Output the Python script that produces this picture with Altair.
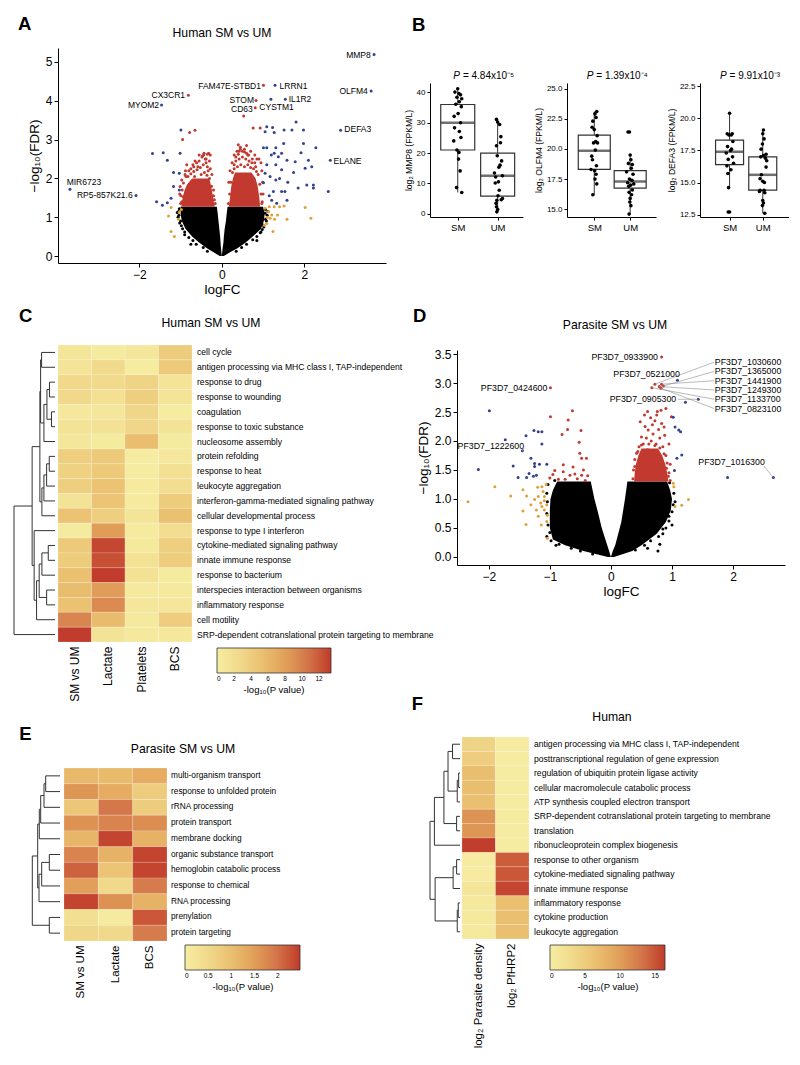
import altair as alt
import pandas as pd

FONT = "Liberation Sans"
RED = "#C1392F"
BLUE = "#34418C"
ORANGE = "#E1A035"
BLACK = "#000000"
HEAT_STOPS = [0, 0.2, 0.4, 0.6, 0.8, 1.0]
HEAT_COLORS = ["#F6EDA2", "#F1D98B", "#EAC070", "#E1A05A", "#D3744A", "#C0392B"]

# ---------------- Panel A (human volcano) ----------------
A_BLUE = [(3.69, 5.19), (1.29, 4.40), (1.54, 4.04), (1.19, 4.04), (3.62, 4.25), (-1.46, 3.89),
          (2.88, 3.24), (2.63, 2.47), (-3.68, 1.72), (-2.08, 1.56),
          (-0.99, 3.25), (-1.68, 2.64), (-1.42, 2.66), (-1.01, 2.65), (-1.32, 2.47), (-1.17, 2.15),
          (-1.03, 2.13), (-1.17, 1.79), (-1.03, 1.70), (-1.58, 1.40), (-1.44, 1.31), (-1.32, 1.37),
          (-1.23, 1.49), (1.09, 3.33), (1.23, 3.31), (1.05, 3.20), (1.27, 3.18), (1.51, 3.25),
          (1.70, 3.25), (1.80, 3.45), (1.98, 3.25), (1.01, 2.79), (1.09, 2.79), (1.31, 2.79),
          (1.45, 2.65), (1.27, 2.65), (1.92, 2.66), (1.98, 2.90), (2.28, 2.79), (1.58, 2.47),
          (1.78, 2.43), (1.31, 2.35), (1.45, 2.22), (1.74, 2.15), (2.10, 2.47), (2.18, 2.30),
          (2.02, 2.26), (1.05, 2.13), (1.17, 2.05), (1.31, 1.96), (1.01, 1.89), (1.45, 1.66),
          (1.53, 1.66), (1.25, 1.66), (2.22, 1.83), (2.06, 1.83), (2.22, 1.75), (2.58, 1.66),
          (1.21, 1.44), (1.58, 1.44), (1.33, 1.36), (1.09, 2.35), (1.37, 2.56), (1.15, 1.55),
          (1.40, 2.00), (1.60, 1.90), (1.85, 1.75), (1.20, 2.60), (1.50, 2.90)]
A_RED = [(1.01, 4.40), (-0.81, 4.14), (0.83, 4.01), (0.81, 3.82), (0.53, 3.61),
         (-0.95, 3.00), (-0.78, 3.18), (-0.65, 3.24), (-0.43, 2.65), (-0.32, 2.65), (-0.28, 2.60),
         (-0.48, 2.55), (-0.85, 2.35), (-0.61, 2.40), (-0.75, 2.25), (-0.89, 2.10), (-0.97, 1.96),
         (-1.01, 1.79), (-0.93, 1.53), (-0.97, 1.40), (-0.65, 2.45), (-0.40, 2.50), (-0.24, 2.10),
         (-0.20, 1.70), (-0.18, 1.45), (-1.02, 1.60), (-0.88, 2.20), (-0.70, 2.35), (-0.55, 2.60),
         (-0.35, 2.62),
         (-1.00, 1.35), (-0.99, 1.55), (-0.96, 1.70), (-0.93, 1.88), (-0.87, 2.05), (-0.80, 2.20),
         (-0.68, 2.30), (-0.55, 2.45), (-0.47, 2.58), (-0.38, 2.50), (-0.35, 2.30), (-0.30, 2.00),
         (-0.25, 1.80), (-0.20, 1.55), (-0.16, 1.35),
         (-0.82, 2.05), (-0.75, 2.12), (-0.68, 2.18), (-0.60, 2.22), (-0.52, 2.28), (-0.45, 2.35),
         (-0.38, 2.40), (-0.33, 2.20), (-0.42, 2.15), (-0.50, 2.10), (-0.58, 2.30), (-0.66, 2.05),
         (-0.30, 2.45), (-0.44, 2.60), (-0.36, 2.08), (-0.28, 2.25),
         (0.76, 3.30), (0.93, 3.30), (0.40, 2.87), (0.45, 2.80), (0.60, 2.85), (0.37, 2.70),
         (0.55, 2.75), (0.70, 2.70), (0.80, 2.60), (0.90, 2.50), (0.95, 2.40), (0.30, 2.60),
         (0.25, 2.40), (0.20, 2.20), (0.17, 1.90), (0.97, 2.20), (0.99, 1.90), (1.00, 1.60),
         (0.98, 1.40), (0.85, 2.50), (0.50, 2.70), (0.65, 2.60),
         (0.16, 1.35), (0.19, 1.60), (0.22, 1.90), (0.26, 2.15), (0.30, 2.35), (0.34, 2.55),
         (0.42, 2.70), (0.55, 2.68), (0.63, 2.60), (0.74, 2.50), (0.82, 2.30), (0.88, 2.10),
         (0.92, 1.85), (0.95, 1.60), (0.97, 1.35),
         (0.30, 2.25), (0.38, 2.30), (0.46, 2.35), (0.55, 2.30), (0.63, 2.35), (0.70, 2.28),
         (0.77, 2.25), (0.34, 2.45), (0.42, 2.50), (0.50, 2.55), (0.58, 2.50), (0.66, 2.45),
         (0.73, 2.40), (0.40, 2.62), (0.60, 2.65), (0.45, 2.75), (0.84, 2.18), (0.80, 2.40)]
A_ORANGE = [(-1.23, 1.25), (-1.03, 1.13), (-1.29, 1.03), (-1.23, 0.63), (-1.15, 0.50), (-1.05, 0.95),
            (-0.98, 1.20), (1.05, 1.23), (1.15, 1.27), (1.27, 1.27), (1.40, 1.27), (1.51, 1.29),
            (1.13, 1.14), (1.21, 1.06), (1.35, 1.06), (1.17, 0.97), (1.28, 0.95), (1.09, 0.84),
            (1.58, 0.95), (2.02, 1.25), (2.16, 0.97), (1.24, 0.63), (1.03, 0.79), (1.10, 1.00)]
A_BLACK = [(-1.05, 1.15), (1.05, 1.10), (-0.90, 0.55), (0.95, 0.62), (1.00, 0.80), (-1.00, 0.90),
           (0.85, 0.40), (-0.75, 0.30), (1.06, 0.95), (-1.04, 1.05),
           (-1.03, 1.22), (-1.06, 1.00), (-1.02, 0.85), (-0.95, 0.70), (-0.90, 0.62), (-0.80, 0.48),
           (-0.70, 0.40), (-0.62, 0.30), (-0.45, 0.22), (-0.35, 0.12), (-1.08, 1.12), (-0.98, 0.78),
           (1.06, 1.20), (1.10, 1.05), (1.08, 0.90), (1.02, 0.75), (0.93, 0.60), (0.85, 0.50),
           (0.75, 0.42), (0.60, 0.30), (0.48, 0.22), (0.35, 0.12), (1.12, 1.15), (0.98, 0.68)]
A_BLACK_LOBES = {
    "L": [(0.0, -0.05, 0.0), (0.1, -0.20, -0.01), (0.2, -0.36, -0.02), (0.35, -0.55, -0.03),
          (0.5, -0.72, -0.04), (0.7, -0.88, -0.06), (0.9, -0.97, -0.08), (1.1, -1.0, -0.10),
          (1.27, -1.0, -0.12)],
    "R": [(0.0, 0.0, 0.05), (0.1, 0.01, 0.20), (0.2, 0.02, 0.38), (0.35, 0.04, 0.58),
          (0.5, 0.05, 0.75), (0.7, 0.07, 0.95), (0.9, 0.10, 1.02), (1.1, 0.12, 1.04),
          (1.27, 0.14, 1.00)],
}
A_RED_LOBES = {
    "L": [(1.27, -0.98, -0.17), (1.5, -0.95, -0.21), (1.7, -0.90, -0.24), (1.85, -0.84, -0.27),
          (2.0, -0.72, -0.30)],
    "R": [(1.27, 0.17, 0.93), (1.5, 0.20, 0.91), (1.8, 0.23, 0.87), (2.0, 0.27, 0.82),
          (2.15, 0.32, 0.72)],
}
A_LABELS = [("MMP8", 3.61, 5.19, "right"), ("LRRN1", 1.40, 4.38, "left"),
            ("FAM47E-STBD1", 0.95, 4.38, "right"), ("CX3CR1", -0.89, 4.14, "right"),
            ("STOM", 0.78, 4.03, "right"), ("IL1R2", 1.62, 4.04, "left"),
            ("OLFM4", 3.54, 4.25, "right"), ("MYOM2", -1.52, 3.88, "right"),
            ("CD63", 0.75, 3.80, "right"), ("CYSTM1", 0.91, 3.84, "left"),
            ("DEFA3", 2.97, 3.26, "left"), ("ELANE", 2.71, 2.46, "left"),
            ("MIR6723", -3.76, 1.90, "left"), ("RP5-857K21.6", -2.16, 1.56, "right")]

# ---------------- Panel D (parasite volcano) ----------------
D_BLUE = [(-1.99, 2.52), (-1.73, 2.02), (-2.17, 1.51), (-1.39, 2.09), (-1.26, 2.18), (-1.19, 2.16),
          (-1.13, 2.16), (-1.13, 1.95), (-1.45, 1.83), (-1.60, 1.57), (-1.31, 1.70), (-1.25, 1.61),
          (-1.17, 1.60), (-1.05, 1.60), (-1.25, 1.56), (-1.52, 1.37), (-1.38, 1.37), (-1.34, 1.44),
          (-1.27, 1.39), (-1.22, 1.41), (1.09, 3.05), (1.22, 2.67), (1.43, 2.72), (1.02, 2.41),
          (1.05, 2.24), (1.11, 2.19), (1.14, 2.16), (1.16, 1.76), (1.08, 1.70), (1.04, 1.49),
          (1.91, 1.37), (2.66, 1.37)]
D_ORANGE = [(-2.34, 0.95), (-1.90, 1.21), (-1.64, 1.05), (-1.44, 1.16), (-1.38, 1.05), (-1.44, 0.79),
            (-1.39, 0.56), (-1.22, 0.81), (-1.19, 0.70), (-1.13, 1.21), (-1.11, 1.13), (-1.09, 1.04),
            (-1.15, 0.93), (-1.05, 0.90), (-1.09, 0.81), (-1.04, 0.72), (-1.14, 0.55), (-1.04, 0.32),
            (-1.05, 0.61), (-1.19, 1.04), (-1.25, 0.99), (-1.31, 0.90), (-1.13, 0.87), (-1.09, 0.97),
            (-1.06, 1.25), (-1.20, 1.20), (1.02, 1.27), (1.03, 1.21), (1.27, 0.99), (1.16, 0.89),
            (1.05, 0.87)]
D_RED = [(-0.99, 2.92), (-0.99, 2.42), (-0.63, 2.52), (-0.70, 2.36), (-0.71, 2.20), (-0.80, 2.11),
         (-0.49, 2.18), (-0.52, 1.98), (-0.51, 1.79), (-0.48, 1.70), (-0.40, 1.70), (-0.78, 1.59),
         (-0.92, 1.49), (-0.78, 1.47), (-0.67, 1.41), (-0.59, 1.43), (-0.48, 1.41), (-0.38, 1.40),
         (-0.86, 1.34), (-0.75, 1.34), (-1.00, 1.36), (-0.55, 1.35), (-0.62, 1.55), (-0.45, 1.50),
         (-0.95, 1.42), (-0.42, 1.32),
         (0.83, 3.45), (0.67, 2.92), (0.72, 2.98), (0.79, 2.94), (0.83, 2.98), (0.86, 2.95),
         (0.82, 2.91), (0.60, 2.51), (0.76, 2.51), (0.82, 2.53), (0.90, 2.56), (0.48, 2.33),
         (0.61, 2.19), (0.69, 2.12), (0.83, 2.30), (0.87, 2.24), (0.99, 2.42), (0.50, 2.07),
         (0.42, 1.79), (0.39, 1.56), (0.91, 1.53), (0.94, 1.39), (0.55, 2.45), (0.65, 2.40),
         (0.72, 2.35), (0.78, 2.20), (0.58, 2.05), (0.66, 2.00), (0.74, 1.95), (0.80, 2.05),
         (0.85, 1.90), (0.53, 1.95), (0.60, 1.85), (0.70, 1.80), (0.90, 1.75), (0.46, 1.90),
         (0.75, 2.45), (0.68, 2.28), (0.56, 2.25), (0.95, 1.95), (0.97, 1.60), (0.44, 1.60),
         (0.88, 2.10),
         (0.36, 1.35), (0.37, 1.50), (0.39, 1.68), (0.44, 1.82), (0.50, 1.93), (0.62, 1.95),
         (0.72, 1.92), (0.80, 1.88), (0.87, 1.78), (0.92, 1.62), (0.95, 1.45), (0.97, 1.32)]
D_BLACK = [(0.77, 0.10), (0.85, 0.40), (0.90, 0.50), (1.00, 0.55), (-1.05, 0.35), (-0.98, 0.28),
           (0.95, 0.70), (1.02, 0.90), (-0.90, 0.20), (0.60, 0.15),
           (-1.03, 1.25), (-1.05, 1.10), (-1.04, 0.95), (-1.05, 0.75), (-1.03, 0.55), (-1.00, 0.42),
           (-0.85, 0.22), (-0.65, 0.15), (-0.50, 0.10), (-0.92, 1.32), (-0.30, 0.05),
           (0.96, 1.28), (1.03, 1.10), (1.05, 0.95), (1.00, 0.78), (0.95, 0.62), (0.85, 0.48),
           (0.78, 0.35), (0.65, 0.28), (0.55, 0.20), (0.40, 0.12), (0.80, 0.22)]
D_BLACK_LOBES = {
    "L": [(0.0, -0.05, 0.0), (0.1, -0.45, -0.03), (0.2, -0.75, -0.06), (0.3, -0.95, -0.09),
          (0.5, -1.0, -0.15), (0.8, -1.0, -0.22), (1.0, -0.99, -0.27), (1.15, -0.95, -0.30),
          (1.3, -0.88, -0.33)],
    "R": [(0.0, 0.0, 0.05), (0.1, 0.03, 0.35), (0.2, 0.07, 0.50), (0.4, 0.12, 0.75),
          (0.6, 0.17, 0.90), (0.8, 0.20, 0.98), (1.0, 0.23, 1.00), (1.15, 0.25, 0.97),
          (1.3, 0.27, 0.92)],
}
D_RED_LOBES = {
    "R": [(1.3, 0.38, 0.94), (1.45, 0.39, 0.92), (1.6, 0.41, 0.89), (1.75, 0.45, 0.84),
          (1.87, 0.50, 0.77)],
}
D_LABELS = [("PF3D7_0933900", 0.77, 3.45, "right"), ("PF3D7_0424600", -1.04, 2.91, "right"),
            ("PF3D7_0521000", 0.04, 3.16, "left"), ("PF3D7_0905300", -0.02, 2.72, "left"),
            ("PF3D7_1030600", 1.70, 3.36, "left"), ("PF3D7_1365000", 1.70, 3.20, "left"),
            ("PF3D7_1441900", 1.70, 3.04, "left"), ("PF3D7_1249300", 1.70, 2.88, "left"),
            ("PF3D7_1133700", 1.70, 2.72, "left"), ("PF3D7_0823100", 1.70, 2.56, "left"),
            ("PF3D7_1222600", -2.51, 1.91, "left"), ("PF3D7_1016300", 1.43, 1.63, "left")]
D_LEADERS = [(1.69, 3.36, 0.72, 2.98), (1.69, 3.20, 0.86, 2.95), (1.69, 3.04, 0.83, 2.98),
             (1.69, 2.88, 0.79, 2.94), (1.69, 2.72, 0.67, 2.92), (1.69, 2.56, 0.82, 2.91),
             (1.10, 2.72, 1.43, 2.72), (2.50, 1.57, 2.66, 1.37), (-1.42, 1.88, -1.45, 1.83)]

# ---------------- Panel B (box plots) ----------------
MMP8_SM = [41.2, 40.1, 39.6, 39.2, 38.4, 37.9, 36.9, 36.1, 35.3, 33.0, 32.1, 30.0, 28.3, 27.1, 25.1,
           24.0, 21.0, 20.2, 18.0, 14.1, 8.6, 7.0]
MMP8_SM_J = [0.0, -0.07, 0.03, 0.07, -0.02, 0.1, 0.04, -0.05, 0.09, 0.01, -0.09, 0.07, -0.08, 0.04,
             0.08, -0.1, -0.02, 0.03, 0.02, 0.06, -0.03, 0.1]
MMP8_UM = [31.1, 30.2, 29.4, 25.4, 23.4, 22.4, 19.1, 17.4, 16.0, 15.3, 13.4, 12.5, 12.1, 10.5, 10.1,
           7.7, 5.9, 5.0, 4.6, 4.4, 3.4, 2.3, 1.4, 0.6]
MMP8_UM_J = [-0.03, 0.0, 0.05, 0.08, 0.07, -0.03, -0.01, 0.1, 0.06, 0.03, -0.08, 0.12, -0.05, 0.02,
             -0.06, 0.04, 0.01, 0.12, 0.09, -0.02, -0.04, -0.03, 0.0, -0.02]
MMP8_STATS = {"q1": [21.0, 5.8], "med": [30.0, 12.5], "q3": [36.0, 20.0], "lo": [7.0, 0.6], "hi": [41.2, 31.1]}

OLFM4_SM = [23.1, 22.9, 22.6, 22.3, 21.8, 21.6, 21.1, 20.6, 20.5, 20.5, 19.9, 19.4, 19.1, 18.6, 18.3,
            18.2, 17.9, 17.5, 17.1, 16.2]
OLFM4_SM_J = [0.07, 0.02, 0.05, -0.04, -0.06, 0.0, 0.08, 0.04, -0.02, 0.09, 0.03, -0.07, -0.05, 0.06,
              -0.09, 0.01, 0.05, 0.02, 0.07, -0.04]
OLFM4_UM = [21.4, 21.4, 19.5, 19.1, 18.8, 18.7, 18.4, 18.1, 17.9, 17.5, 17.4, 17.2, 17.1, 17.0, 16.9,
            16.6, 16.4, 16.2, 15.9, 15.6, 15.3, 14.6]
OLFM4_UM_J = [-0.06, -0.02, 0.0, 0.02, -0.05, 0.06, 0.03, -0.1, 0.08, -0.02, 0.05, -0.07, 0.1, 0.01,
              -0.04, 0.06, -0.03, 0.04, 0.0, -0.01, 0.02, -0.03]
OLFM4_STATS = {"q1": [18.3, 16.75], "med": [19.85, 17.3], "q3": [21.15, 18.2], "lo": [16.2, 14.6], "hi": [23.1, 19.5]}

DEFA3_SM = [20.4, 18.8, 18.8, 18.7, 18.7, 18.2, 17.8, 17.6, 17.5, 17.3, 17.0, 16.8, 16.5, 16.3, 16.0,
            15.7, 14.6, 12.7, 12.7]
DEFA3_SM_J = [0.0, -0.07, 0.08, -0.02, 0.05, 0.1, -0.06, 0.06, 0.03, -0.1, 0.09, -0.04, 0.12, -0.08,
              0.04, -0.05, -0.03, -0.04, 0.0]
DEFA3_UM = [19.1, 18.8, 18.4, 18.0, 17.6, 17.2, 17.1, 17.0, 16.9, 16.7, 16.2, 15.6, 15.3, 15.1, 15.0,
            14.4, 14.4, 14.3, 14.2, 13.6, 13.4, 13.2, 12.6]
DEFA3_UM_J = [0.02, 0.0, 0.04, -0.01, -0.05, 0.1, 0.02, -0.06, 0.08, 0.12, 0.1, -0.04, -0.08, 0.0,
              0.05, -0.08, 0.04, -0.1, 0.06, 0.0, 0.02, -0.01, 0.06]
DEFA3_STATS = {"q1": [16.4, 14.4], "med": [17.4, 15.6], "q3": [18.3, 17.0], "lo": [14.6, 12.6], "hi": [20.4, 19.1]}

# ---------------- Panel C heatmap ----------------
C_ROWS = ["cell cycle", "antigen processing via MHC class I, TAP-independent", "response to drug",
          "response to wounding", "coagulation", "response to toxic substance", "nucleosome assembly",
          "protein refolding", "response to heat", "leukocyte aggregation",
          "interferon-gamma-mediated signaling pathway", "cellular developmental process",
          "response to type I interferon", "cytokine-mediated signaling pathway",
          "innate immune response", "response to bacterium",
          "interspecies interaction between organisms", "inflammatory response", "cell motility",
          "SRP-dependent cotranslational protein targeting to membrane"]
C_COLS = ["SM vs UM", "Lactate", "Platelets", "BCS"]
C_SMUM = [1.0, 1.2, 2.8, 2.8, 0.7, 1.3, 0.8, 3.8, 3.6, 3.8, 1.3, 5.0, 0.3, 4.3, 4.1, 5.3, 5.6, 5.1, 9.7, 13.3]
C_LAC = [0.3, 2.5, 2.5, 1.8, 0.9, 1.5, 0.3, 4.3, 4.3, 5.0, 4.8, 3.8, 8.2, 12.8, 12.5, 13.3, 8.2, 9.3, 5.8, 1.3]
C_PLT = [0.8, 0.2, 3.2, 3.8, 3.0, 3.0, 5.5, 0.1, 0.1, 0.4, 0.4, 1.2, 0.4, 0.5, 1.6, 1.6, 0.5, 0.8, 0.5, 0.5]
C_BCS = [4.0, 4.3, 1.2, 1.2, 0.2, 1.3, 0.3, 0.7, 1.7, 2.1, 4.1, 5.3, 2.1, 3.8, 3.9, 0.3, 0.6, 0.9, 3.9, 0.7]
C_VMAX = 13.4
C_TREE = (40.7,
          (22.7,
           (15.0,
            (14.3, (13.3, 0, 1), (11.0, (8.0, (5.5, 2, 3), (3.5, 4, 5)), 6)),
            (13.0, (11.0, (8.3, (5.7, 7, 8), 9), 10), 11)),
           (20.7, 12, (18.3, (15.7, (13.0, (6.7, 13, 14), 15), (8.3, 16, 17)), 18))),
          19)

# ---------------- Panel E heatmap ----------------
E_ROWS = ["multi-organism transport", "response to unfolded protein", "rRNA processing",
          "protein transport", "membrane docking", "organic substance transport",
          "hemoglobin catabolic process", "response to chemical", "RNA processing", "prenylation",
          "protein targeting"]
E_COLS = ["SM vs UM", "Lactate", "BCS"]
E_SMUM = [1.1, 1.6, 0.85, 1.65, 1.15, 1.8, 2.15, 1.5, 2.4, 0.35, 0.55]
E_LAC = [1.05, 1.3, 1.95, 1.8, 2.4, 1.2, 0.9, 0.5, 1.65, 0.05, 0.5]
E_BCS = [1.3, 0.75, 0.75, 1.7, 1.2, 2.4, 2.4, 1.9, 1.2, 2.25, 1.9]
E_VMAX = 2.48
E_TREE = (27.7,
          (22.3,
           (20.7, (19.3, (16.0, (14.3, 0, 1), 2), 3), 4),
           (21.0, (18.3, (10.7, 5, 6), 7), 8)),
          (10.7, 9, 10))

# ---------------- Panel F heatmap ----------------
F_ROWS = ["antigen processing via MHC class I, TAP-independent",
          "posttranscriptional regulation of gene expression",
          "regulation of ubiquitin protein ligase activity", "cellular macromolecule catabolic process",
          "ATP synthesis coupled electron transport",
          "SRP-dependent cotranslational protein targeting to membrane", "translation",
          "ribonucleoprotein complex biogenesis", "response to other organism",
          "cytokine-mediated signaling pathway", "innate immune response", "inflammatory response",
          "cytokine production", "leukocyte aggregation"]
F_COLS = ["log\u2082 Parasite density", "log\u2082 PfHRP2"]
F_DENS = [4.0, 4.8, 6.8, 6.8, 6.6, 10.8, 10.6, 16.2, 0.3, 0.3, 1.2, 0.7, 0.7, 0.6]
F_HRP2 = [0.3, 0.3, 0.2, 0.2, 0.2, 0.2, 0.2, 0.2, 14.5, 14.8, 15.8, 6.5, 6.5, 6.6]
F_VMAX = 16.4
F_TREE = (29.3,
          (25.0, (15.7, (11.7, (7.3, 0, 1), (2.7, (1.3, 2, 3), 4)), (3.3, 5, 6)), 7),
          (24.3, (6.7, (3.3, 8, 9), 10), (2.7, (1.7, 11, 12), 13)))

LEGEND_TITLE = "-log\u2081\u2080(P value)"


# ================= helpers =================
def note(txt, x, y, size, weight="normal", align="left", style="normal", baseline="alphabetic"):
    return alt.Chart(pd.DataFrame({"t": [txt]})).mark_text(
        text=txt, font=FONT, fontSize=size, fontWeight=weight, fontStyle=style,
        align=align, baseline=baseline, color="black"
    ).encode(x=alt.value(x), y=alt.value(y))


def frame(left, top, right, bottom):
    # invisible layout frame (fixes the panel's bounding box for the grid layout)
    return alt.Chart(pd.DataFrame({"t": [0]})).mark_rule(opacity=0, strokeOpacity=0).encode(
        x=alt.value(-left), x2=alt.value(right), y=alt.value(-top), y2=alt.value(bottom))


def dendro_segments(tree):
    segs = []

    def walk(node):
        if isinstance(node, int):
            return 0.0, node + 0.5
        h, a, b = node
        ha, ya = walk(a)
        hb, yb = walk(b)
        segs.append((ha, h, ya, ya))
        segs.append((hb, h, yb, yb))
        segs.append((h, h, ya, yb))
        return h, (ya + yb) / 2

    walk(tree)
    return pd.DataFrame(segs, columns=["h1", "h2", "y1", "y2"])


def volcano(groups, black_lobes, red_lobes, labels, leaders, xdom, ydom, xticks, yticks, yfmt,
            title, title_xy, letter, letter_xy, label_size, height, yrange, extra=()):
    xs = alt.Scale(domain=xdom, nice=False, zero=False)
    ys = alt.Scale(domain=ydom, nice=False, zero=False, range=yrange)
    xax = alt.Axis(values=xticks, format="d", labelFontSize=12, titleFontSize=13.5, tickSize=4,
                   labelPadding=2, titlePadding=2)
    yax = alt.Axis(values=yticks, format=yfmt, labelFontSize=12, titleFontSize=13.5, tickSize=4,
                   labelPadding=2, titlePadding=4)
    YT = "\u2212log\u2081\u2080(FDR)"

    def X(f):
        return alt.X(f, type="quantitative", scale=xs, axis=xax, title="logFC")

    def Y(f):
        return alt.Y(f, type="quantitative", scale=ys, axis=yax, title=YT)

    recs = []
    for g, pts in groups:
        for (x, y) in pts:
            recs.append({"x": x, "y": y, "g": g})
    pts_df = pd.DataFrame(recs)

    def lobes(d):
        r = []
        for k, rows in d.items():
            for (y, a, b) in rows:
                r.append({"lobe": k, "y": y, "x1": a, "x2": b})
        return pd.DataFrame(r)

    layers = [
        alt.Chart(lobes(black_lobes)).mark_area(orient="horizontal", color=BLACK).encode(
            y=Y("y"), x=X("x1"), x2="x2", detail="lobe:N"),
        alt.Chart(lobes(red_lobes)).mark_area(orient="horizontal", color=RED).encode(
            y=Y("y"), x=X("x1"), x2="x2", detail="lobe:N"),
        alt.Chart(pts_df).mark_circle(size=9, opacity=1).encode(
            x=X("x"), y=Y("y"),
            color=alt.Color("g:N", scale=alt.Scale(domain=["black", "orange", "red", "blue"],
                                                   range=[BLACK, ORANGE, RED, BLUE]), legend=None)),
    ]
    if leaders:
        ldf = pd.DataFrame(leaders, columns=["x", "y", "x2", "y2"])
        layers.append(alt.Chart(ldf).mark_rule(color="#8c8c8c", strokeWidth=0.6).encode(
            x=X("x"), y=Y("y"), x2="x2", y2="y2"))
    lab = pd.DataFrame(labels, columns=["lab", "lx", "ly", "al"])
    for al in ["left", "right"]:
        sub = lab[lab.al == al]
        layers.append(alt.Chart(sub).mark_text(
            align=al, baseline="middle", font=FONT, fontSize=label_size, color="black").encode(
            x=X("lx"), y=Y("ly"), text="lab:N"))
    layers.append(note(title, title_xy[0], title_xy[1], 12.2, align="center"))
    layers.append(note(letter, letter_xy[0], letter_xy[1], 18.5, weight="bold"))
    layers.extend(extra)
    return alt.layer(*layers).properties(width=328, height=height)


def box_panel(sm, smj, um, umj, stats, ydom, yticks, yfmt, xdom, width, boxw, ptxt, pstart, ytitle,
              letter=None):
    xs = alt.Scale(domain=xdom, nice=False, zero=False)
    ys = alt.Scale(domain=ydom, nice=False, zero=False, range=[169, 35])
    xax = alt.Axis(values=[1, 2], labelExpr="datum.value == 1 ? 'SM' : 'UM'", labelFontSize=9.5,
                   tickSize=3, labelPadding=2)
    yax = alt.Axis(values=yticks, format=yfmt, labelFontSize=8, titleFontSize=8.6, tickSize=3,
                   labelPadding=2, titlePadding=3)

    def X(f):
        return alt.X(f, type="quantitative", scale=xs, axis=xax, title=None)

    def Y(f):
        return alt.Y(f, type="quantitative", scale=ys, axis=yax, title=ytitle)

    pts = pd.DataFrame({"x": [1 + j for j in smj] + [2 + j for j in umj], "y": sm + um})
    st = pd.DataFrame(dict(pos=[1, 2], **stats))
    layers = [
        alt.Chart(st).mark_rule(color="#333333", strokeWidth=1).encode(x=X("pos"), y=Y("lo"), y2="hi"),
        alt.Chart(st).mark_bar(fill="white", stroke="#333333", strokeWidth=1.2, size=boxw).encode(
            x=X("pos"), y=Y("q1"), y2="q3"),
        alt.Chart(st).mark_tick(orient="horizontal", color="#333333", size=boxw, thickness=2.5).encode(
            x=X("pos"), y=Y("med")),
        alt.Chart(pts).mark_circle(size=13, color="black", opacity=1).encode(x=X("x"), y=Y("y")),
        note("P", pstart, 30.5, 10, style="italic"),
        note("= " + ptxt, pstart + 9.6, 30.5, 10),
    ]
    if letter:
        layers.append(note(letter, -18, -17, 18.5, weight="bold"))
    return alt.layer(*layers).properties(width=width, height=169)


def heat_panel(rows, cols, colvals, tree, vmax, width, height, ytop, xoff, dend_range, leg_xy,
               leg_len, leg_vals, leg_fmt, title, title_xy, letter, letter_xy, col_font, label_dx,
               label_font, extra=()):
    n = len(rows)
    recs = []
    for j, c in enumerate(cols):
        for i, r in enumerate(rows):
            recs.append({"row": r, "col": c, "r0": i, "r1": i + 1, "v": colvals[j][i]})
    df = pd.DataFrame(recs)
    ys = alt.Scale(domain=[0, n], range=[ytop, height], nice=False, zero=False)
    heat = alt.Chart(df).mark_rect(stroke="#FFFFFF", strokeWidth=0.3, strokeOpacity=0.6).encode(
        x=alt.X("col:N", sort=cols,
                scale=alt.Scale(paddingInner=0, paddingOuter=0, range=[xoff, xoff + width]),
                axis=alt.Axis(title=None, labelAngle=-90, domain=False, ticks=False,
                              labelFontSize=col_font, labelPadding=4, labelLimit=300)),
        y=alt.Y("r0:Q", scale=ys, axis=None),
        y2="r1:Q",
        color=alt.Color("v:Q",
                        scale=alt.Scale(domain=[s * vmax for s in HEAT_STOPS], range=HEAT_COLORS,
                                        clamp=True),
                        legend=alt.Legend(orient="none", legendX=leg_xy[0], legendY=leg_xy[1],
                                          direction="horizontal", gradientLength=leg_len,
                                          gradientThickness=25, titleOrient="bottom",
                                          titleAnchor="middle", values=leg_vals, format=leg_fmt,
                                          labelFontSize=6.5, titleFontSize=9.5,
                                          gradientStrokeColor="#333333", gradientStrokeWidth=0.8,
                                          padding=0, labelOffset=3, titlePadding=2,
                                          title=LEGEND_TITLE, labelFont=FONT, titleFont=FONT,
                                          titleFontWeight="normal")),
    )
    ldf = pd.DataFrame({"row": rows, "rm": [i + 0.5 for i in range(n)]})
    labels = alt.Chart(ldf).mark_text(align="left", baseline="middle", font=FONT,
                                      fontSize=label_font, color="black").encode(
        x=alt.value(xoff + width + label_dx), y=alt.Y("rm:Q", scale=ys, axis=None), text="row:N")
    seg = dendro_segments(tree)
    dend = alt.Chart(seg).mark_rule(color="#333333", strokeWidth=1).encode(
        x=alt.X("h1:Q", scale=alt.Scale(domain=[0, tree[0]], range=dend_range, nice=False,
                                        zero=False), axis=None),
        x2="h2:Q",
        y=alt.Y("y1:Q", scale=ys, axis=None),
        y2="y2:Q")
    layers = [heat, labels, dend,
              note(title, title_xy[0], title_xy[1], 12.2, align="center"),
              note(letter, letter_xy[0], letter_xy[1], 18.5, weight="bold")]
    layers.extend(extra)
    return alt.layer(*layers).resolve_scale(x="independent").properties(
        width=width + xoff, height=height)


def row(*c, spacing):
    return alt.hconcat(*c, spacing=spacing, bounds="flush").resolve_scale(color="independent")


# ================= build panels =================
A = volcano([("black", A_BLACK), ("orange", A_ORANGE), ("red", A_RED), ("blue", A_BLUE)],
            A_BLACK_LOBES, A_RED_LOBES, A_LABELS, None, [-3.97, 3.98], [-0.18, 5.36],
            [-2, 0, 2], [0, 1, 2, 3, 4, 5], "d", "Human SM vs UM", (164, -11), "A", (-40, -18), 8.5,
            215, [215, 0], extra=[frame(50, 40, 330, 256)])

D = volcano([("black", D_BLACK), ("orange", D_ORANGE), ("red", D_RED), ("blue", D_BLUE)],
            D_BLACK_LOBES, D_RED_LOBES, D_LABELS, D_LEADERS, [-2.52, 2.85], [-0.14, 3.57],
            [-2, -1, 0, 1, 2], [0, 0.5, 1, 1.5, 2, 2.5, 3, 3.5], ".1f", "Parasite SM vs UM",
            (158, -16), "D", (-44, -23), 8.8, 220, [220, 5])

B1 = box_panel(MMP8_SM, MMP8_SM_J, MMP8_UM, MMP8_UM_J, MMP8_STATS, [-1.1, 43.1], [0, 10, 20, 30, 40],
               "d", [0.43, 2.51], 93, 34, "4.84x10\u207b\u2075", 23.3,
               "log\u2082 MMP8 (FPKM/L)", letter="B")
B2 = box_panel(OLFM4_SM, OLFM4_SM_J, OLFM4_UM, OLFM4_UM_J, OLFM4_STATS, [14.36, 25.46],
               [15, 17.5, 20, 22.5, 25], ".1f", [0.38, 2.58], 89, 32, "1.39x10\u207b\u2074", 19.7,
               "log\u2082 OLFM4 (FPKM/L)")
B3 = box_panel(DEFA3_SM, DEFA3_SM_J, DEFA3_UM, DEFA3_UM_J, DEFA3_STATS, [12.31, 22.76],
               [12.5, 15, 17.5, 20, 22.5], ".1f", [0.26, 2.64], 89, 28, "9.91x10\u207b\u00b3", 20,
               "log\u2082 DEFA3 (FPKM/L)")

C = heat_panel(C_ROWS, C_COLS, [C_SMUM, C_LAC, C_PLT, C_BCS], C_TREE, C_VMAX, 134, 297, 0, 0,
               [-3, -44], (159, 303), 114, [0, 2, 4, 6, 8, 10, 12], "d", "Human SM vs UM",
               (153, -18), "C", (-39, -23), 12, 5, 8.6, extra=[frame(50, 41, 100, 355)])
E = heat_panel(E_ROWS, E_COLS, [E_SMUM, E_LAC, E_BCS], E_TREE, E_VMAX, 103, 204, 31, 6,
               [2, -25.7], (127, 208), 115, [0, 0.5, 1, 1.5, 2], ".1~f", "Parasite SM vs UM",
               (125, 16), "E", (-38.7, 3.3), 11.5, 4, 8.3, extra=[frame(50, 45, 100, 322)])
F = heat_panel(F_ROWS, F_COLS, [F_DENS, F_HRP2], F_TREE, F_VMAX, 67, 202, 0, 0, [-2, -32],
               (88, 208), 115, [0, 5, 10, 15], "d", "Human", (150, -16), "F", (-50.3, -26.7),
               11.5, 5, 8.6)

row1 = row(A, B1, B2, B3, spacing=44)
row2 = row(C, D, spacing=265)
row3 = row(E, F, spacing=295)

chart = alt.vconcat(
    row1,
    alt.vconcat(row2, row3, spacing=-10).resolve_scale(color="independent"),
    spacing=0,
).resolve_scale(color="independent").properties(
    padding=0, background="white"
).configure_view(stroke=None).configure_axis(
    grid=False, domainColor="black", tickColor="black", labelColor="black", titleColor="black",
    labelFont=FONT, titleFont=FONT, titleFontWeight="normal", domainWidth=1, tickWidth=1
)

chart.save("out.html", embed_options={"renderer": "svg", "actions": False})
